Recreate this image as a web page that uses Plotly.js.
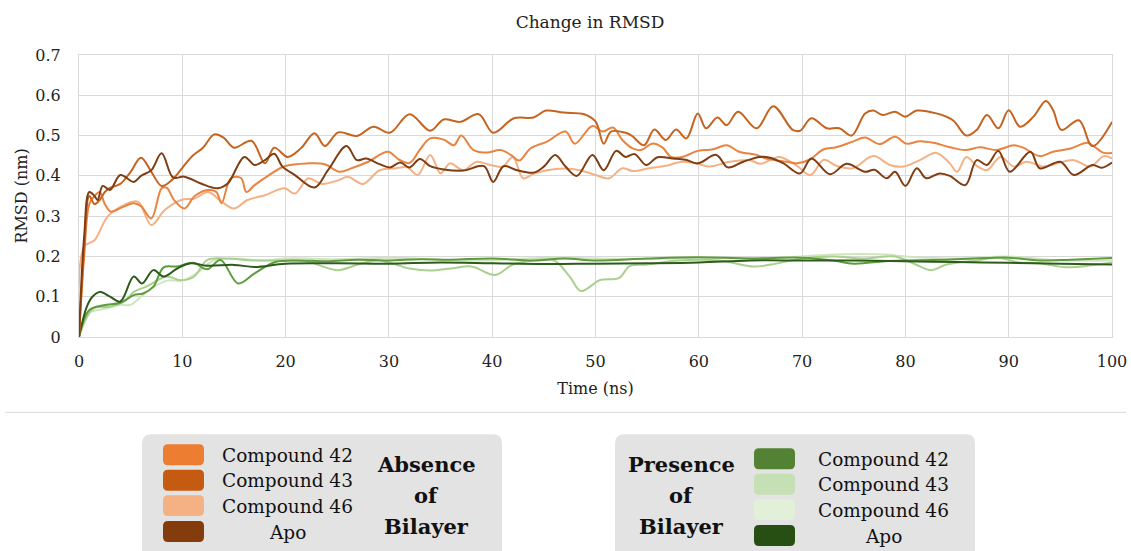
<!DOCTYPE html>
<html>
<head>
<meta charset="utf-8">
<script src="https://cdn.plot.ly/plotly-3.0.1.min.js"></script>
<style>html,body{margin:0;padding:0;background:#fff;}#chart{width:1131px;height:551px;}</style>
</head>
<body>
<div id="chart"></div>
<script>
// ---------- Data (time in ns, RMSD in nm) ----------
// Absence of bilayer
const tA42 = [0,0.5,1,1.5,2,2.5,3.1,4,5.3,6,7.0,8.0,8.5,9.2,10.2,11.2,12.5,13.3,13.8,14.7,15.7,16.2,17,18.3,19.9,22.2,23.8,25.2,26.5,28,29.9,31,32,33,34,35.3,36.3,37,38.2,39.5,40.8,41.8,42.6,43.7,45.3,47.1,48,49.7,50.7,51.7,52.6,53.6,54.4,55.5,56.5,57.3,58.4,59.9,61.4,62.7,63.9,65.6,66.5,68.5,69.5,70.7,72.1,73.3,74.9,76.1,77.5,79,80.1,81.4,82.7,84.3,85.8,87.2,88.8,90.5,91.4,93,94.3,96,97.6,98.2,99.2,100];
const vA42 = [0,0.2,0.33,0.35,0.36,0.33,0.311,0.32,0.332,0.325,0.294,0.369,0.37,0.34,0.319,0.35,0.365,0.36,0.332,0.394,0.394,0.36,0.377,0.40,0.424,0.431,0.429,0.41,0.42,0.435,0.46,0.44,0.432,0.465,0.493,0.49,0.476,0.50,0.464,0.458,0.464,0.452,0.438,0.468,0.485,0.51,0.48,0.524,0.51,0.52,0.489,0.468,0.464,0.48,0.47,0.447,0.447,0.462,0.466,0.476,0.46,0.452,0.443,0.435,0.431,0.44,0.466,0.471,0.485,0.495,0.479,0.497,0.48,0.486,0.482,0.471,0.464,0.471,0.464,0.476,0.47,0.449,0.46,0.468,0.482,0.474,0.457,0.457];

const tA43 = [0,0.5,1,1.5,2,2.5,3,4,5,6,7,8,9,10,11,12,13.1,14,15,16.7,18,18.9,20.2,21.5,22.8,23.8,25.1,26.9,28.5,30.1,32.0,34.0,35.3,36.9,38.7,40.1,42.1,44.0,45.2,46.9,48.9,50.0,50.8,51.5,52.9,53.5,54.7,55.7,56.8,57.8,58.8,59.9,60.7,61.8,62.7,63.8,65.6,67.2,69.1,69.8,70.9,72.4,73.6,74.8,76.1,76.9,77.8,79.0,80.0,81.1,83.0,84.6,85.9,86.9,87.9,89.0,90.0,91.1,92.4,93.6,94.3,95.1,96.8,98.1,100];
const vA43 = [0,0.22,0.35,0.33,0.34,0.36,0.37,0.38,0.41,0.445,0.41,0.375,0.39,0.42,0.45,0.47,0.503,0.495,0.47,0.487,0.431,0.47,0.447,0.469,0.506,0.474,0.508,0.499,0.522,0.507,0.553,0.512,0.54,0.534,0.553,0.507,0.543,0.545,0.562,0.557,0.553,0.535,0.48,0.51,0.507,0.50,0.476,0.515,0.489,0.515,0.493,0.555,0.518,0.545,0.526,0.559,0.518,0.573,0.514,0.512,0.543,0.518,0.518,0.50,0.555,0.562,0.551,0.559,0.547,0.562,0.555,0.538,0.50,0.514,0.551,0.518,0.563,0.522,0.547,0.586,0.563,0.514,0.538,0.474,0.534];

const tA46 = [0,0.5,1.5,2.8,4.4,5.7,7.0,8.3,9.9,11.2,12.5,13.8,15.0,16.3,18.0,19.9,20.9,22.2,23.5,25.2,26,27.5,29.1,30.7,31.8,32.8,34,35,35.9,37.2,38.5,39.8,41,42,43,44,45.3,47,48.5,50,51.3,52.6,53.6,55.2,56.8,58.4,59.9,61.0,63,64.9,66,67.8,69.5,70.8,72.1,73.3,74.9,76.9,78.5,79.8,81.4,83,84.3,85,85.9,86.9,87.9,89.2,90.5,91.7,93.4,94.7,96.3,97.9,99.2,100];
const vA46 = [0,0.224,0.24,0.30,0.328,0.336,0.278,0.315,0.34,0.344,0.36,0.336,0.319,0.34,0.352,0.369,0.356,0.394,0.38,0.39,0.398,0.38,0.414,0.419,0.421,0.402,0.452,0.406,0.431,0.414,0.435,0.427,0.423,0.447,0.394,0.405,0.414,0.418,0.414,0.402,0.394,0.419,0.412,0.419,0.425,0.435,0.43,0.423,0.435,0.439,0.43,0.447,0.425,0.402,0.44,0.425,0.419,0.449,0.427,0.423,0.439,0.457,0.431,0.41,0.447,0.425,0.414,0.447,0.423,0.435,0.423,0.431,0.439,0.423,0.449,0.443];

const tAApo = [0,0.5,1,1.5,1.8,2.3,3,4.0,5.3,6,7.0,8.0,9.1,10.2,11.8,13.4,14.4,16.0,17,18,18.9,19.7,20.9,22.8,24.1,25.9,26.9,27.8,29.1,30.1,31.1,32,33,34,35.3,37.2,39.2,40.1,41.1,42.4,44,45,46.1,47.1,48.2,49.7,50.8,52,52.9,53.8,54.9,56,57.5,58.7,59.9,61.7,62.8,64.3,65.9,66.9,68.2,69.8,70.9,72.7,74.3,76.1,77,78.2,79,80,81.1,82,83.3,84.3,85.8,86.9,87.9,89,90.1,92.1,93,95,96.3,98.1,99,100];
const vAApo = [0,0.25,0.36,0.35,0.34,0.375,0.365,0.402,0.385,0.40,0.414,0.456,0.396,0.398,0.381,0.369,0.381,0.447,0.427,0.439,0.455,0.423,0.402,0.371,0.414,0.474,0.439,0.443,0.429,0.421,0.433,0.421,0.442,0.424,0.416,0.413,0.424,0.385,0.424,0.414,0.408,0.423,0.452,0.423,0.40,0.452,0.414,0.462,0.447,0.454,0.427,0.446,0.443,0.44,0.431,0.452,0.421,0.435,0.447,0.445,0.431,0.406,0.443,0.404,0.43,0.41,0.415,0.394,0.41,0.375,0.419,0.394,0.406,0.40,0.377,0.439,0.427,0.462,0.41,0.46,0.419,0.435,0.402,0.427,0.42,0.433];

// Presence of bilayer
const tP42 = [0,1,2.4,4,5.3,6.2,7.2,8.2,9.5,11.1,12.4,13.7,15.4,17,19,21,24,27,30,33,36,40,44,47,50,55,60,65,70,73,75,78,80,84,88,90,93,96,100];
const vP42 = [0,0.067,0.079,0.085,0.104,0.108,0.125,0.173,0.175,0.184,0.168,0.191,0.133,0.158,0.186,0.19,0.188,0.192,0.19,0.193,0.192,0.195,0.19,0.195,0.19,0.195,0.198,0.195,0.197,0.19,0.182,0.188,0.19,0.192,0.196,0.197,0.19,0.192,0.196];

const tP43 = [0,1.4,3,4.5,5.3,6.5,8.5,9.8,11.1,12.4,14,17,20,22,25,27,29,32,34,36,38,40.3,42,44,46,47.5,48.6,50.4,52.3,53.3,55,58,62,65.3,67,70,73,76,79,81,82.5,84,87,89,91,93,95.5,98,100];
const vP43 = [0,0.071,0.075,0.09,0.112,0.125,0.15,0.141,0.149,0.191,0.195,0.19,0.19,0.188,0.166,0.18,0.19,0.17,0.165,0.17,0.175,0.154,0.18,0.19,0.19,0.15,0.114,0.141,0.147,0.176,0.18,0.19,0.19,0.175,0.18,0.195,0.2,0.195,0.2,0.18,0.166,0.18,0.19,0.197,0.185,0.183,0.173,0.178,0.185];

const tP46 = [0,1,2.5,4,5,6,7,8.5,10,11.5,13,15,18,20,25,30,35,40,45,50,55,60,65,70,73,78,80,85,90,95,100];
const vP46 = [0,0.06,0.07,0.08,0.08,0.1,0.12,0.14,0.14,0.16,0.19,0.195,0.19,0.195,0.193,0.197,0.192,0.19,0.197,0.195,0.193,0.197,0.195,0.2,0.205,0.205,0.2,0.195,0.2,0.19,0.19];

const tPApo = [0,0.75,1.3,2,3,4,5.3,6.1,7.2,8.2,9.5,10.8,12.4,15,17,20,25,30,35,40,45,50,55,60,65,70,75,80,85,90,95,100];
const vPApo = [0,0.075,0.1,0.112,0.1,0.088,0.15,0.133,0.166,0.15,0.17,0.183,0.177,0.179,0.174,0.182,0.183,0.182,0.185,0.183,0.181,0.182,0.183,0.185,0.19,0.19,0.19,0.188,0.186,0.184,0.182,0.18];

const xTicks = [0,10,20,30,40,50,60,70,80,90,100];
const yTicks = [0,0.1,0.2,0.3,0.4,0.5,0.6,0.7];
const legendLabels = ['Compound 42','Compound 43','Compound 46','Apo'];
const absenceColors = ['#ED7D31','#C55A11','#F4B183','#843C0C'];
const presenceColors = ['#548235','#C5E0B4','#E2F0D9','#274E13'];

// ---------- Traces ----------
function tr(x, y, color){
  return {x:x, y:y, type:'scatter', mode:'lines', line:{color:color, width:2, shape:'spline', smoothing:1}, hoverinfo:'skip', showlegend:false};
}
const data = [
  tr(tP46, vP46, '#CFE5C0'),
  tr(tP43, vP43, '#A9D18E'),
  tr(tP42, vP42, '#5E9A3E'),
  tr(tPApo, vPApo, '#2E5A1C'),
  tr(tA46, vA46, '#F4B183'),
  tr(tA42, vA42, '#E9833F'),
  tr(tA43, vA43, '#C5631F'),
  tr(tAApo, vAApo, '#7E3D12')
];

// ---------- Layout helpers (pixel -> paper) ----------
const W = 1131, H = 551;
const L = 79, R = 1112, T = 54.6, B = 337.4;
const px = x => (x - L) / (R - L);
const py = y => (B - y) / (B - T);
function rrect(x0, y0, x1, y1, r){
  const X = v => px(v).toFixed(5), Y = v => py(v).toFixed(5);
  return 'M' + X(x0 + r) + ',' + Y(y0) +
    ' L' + X(x1 - r) + ',' + Y(y0) + ' Q' + X(x1) + ',' + Y(y0) + ' ' + X(x1) + ',' + Y(y0 + r) +
    ' L' + X(x1) + ',' + Y(y1 - r) + ' Q' + X(x1) + ',' + Y(y1) + ' ' + X(x1 - r) + ',' + Y(y1) +
    ' L' + X(x0 + r) + ',' + Y(y1) + ' Q' + X(x0) + ',' + Y(y1) + ' ' + X(x0) + ',' + Y(y1 - r) +
    ' L' + X(x0) + ',' + Y(y0 + r) + ' Q' + X(x0) + ',' + Y(y0) + ' ' + X(x0 + r) + ',' + Y(y0) + ' Z';
}

const shapes = [];
const annotations = [];
const FONT = 'DejaVu Serif, Liberation Serif, serif';

// separator line
shapes.push({type:'line', xref:'paper', yref:'paper', x0:px(5), x1:px(1126), y0:py(413), y1:py(413), line:{color:'#D9D9D9', width:1}});

// legend boxes
shapes.push({type:'path', xref:'paper', yref:'paper', path:rrect(142, 435, 502, 570, 9), fillcolor:'#E3E3E3', line:{width:0}, layer:'below'});
shapes.push({type:'path', xref:'paper', yref:'paper', path:rrect(615, 435, 975, 570, 9), fillcolor:'#E3E3E3', line:{width:0}, layer:'below'});

const leftRows = [445, 470.5, 496, 522];
const rightRows = [449, 474.5, 500, 526];
const sh = 21;
for (let i = 0; i < 4; i++){
  shapes.push({type:'path', xref:'paper', yref:'paper', path:rrect(163, leftRows[i], 204, leftRows[i] + sh, 5), fillcolor:absenceColors[i], line:{width:0}});
  annotations.push({xref:'paper', yref:'paper', x:px(287), y:py(leftRows[i] + 11), text:legendLabels[i], showarrow:false, xanchor:'center', yanchor:'middle', font:{family:FONT, size:18.5, color:'#111'}});
  shapes.push({type:'path', xref:'paper', yref:'paper', path:rrect(754, rightRows[i], 795, rightRows[i] + sh, 5), fillcolor:presenceColors[i], line:{width:0}});
  annotations.push({xref:'paper', yref:'paper', x:px(883), y:py(rightRows[i] + 11), text:legendLabels[i], showarrow:false, xanchor:'center', yanchor:'middle', font:{family:FONT, size:18.5, color:'#111'}});
}
const boldLines = [[465,'Absence','Presence'],[496,'of','of'],[527,'Bilayer','Bilayer']];
boldLines.forEach(b => {
  annotations.push({xref:'paper', yref:'paper', x:px(426), y:py(b[0]), text:'<b>' + b[1] + '</b>', showarrow:false, xanchor:'center', yanchor:'middle', font:{family:FONT, size:21, color:'#111'}});
  annotations.push({xref:'paper', yref:'paper', x:px(681), y:py(b[0]), text:'<b>' + b[2] + '</b>', showarrow:false, xanchor:'center', yanchor:'middle', font:{family:FONT, size:21, color:'#111'}});
});

const layout = {
  width: W, height: H,
  margin: {l: L, r: W - R, t: T, b: H - B, pad: 0},
  paper_bgcolor: '#fff', plot_bgcolor: '#fff',
  showlegend: false,
  title: {text: 'Change in RMSD', font: {family: FONT, size: 17, color: '#222'}, xref: 'container', x: 590 / W, xanchor: 'center', yref: 'container', y: 1 - 22 / H, yanchor: 'middle'},
  xaxis: {
    range: [0, 100], tickvals: xTicks, ticktext: xTicks.map(String),
    showgrid: true, gridcolor: '#D9D9D9', gridwidth: 1, zeroline: false,
    showline: true, linecolor: '#D9D9D9', mirror: true, ticks: '',
    ticklabelstandoff: 10,
    tickfont: {family: FONT, size: 16, color: '#222'},
    title: {text: 'Time (ns)', font: {family: FONT, size: 16, color: '#222'}, standoff: 12},
    automargin: false, fixedrange: true
  },
  yaxis: {
    range: [0, 0.7], tickvals: yTicks, ticktext: yTicks.map(v => v === 0 ? '0' : v.toFixed(1)),
    showgrid: true, gridcolor: '#D9D9D9', gridwidth: 1, zeroline: false,
    showline: true, linecolor: '#D9D9D9', mirror: true, ticks: '',
    ticklabelstandoff: 14,
    tickfont: {family: FONT, size: 16, color: '#222'},
    title: {text: 'RMSD (nm)', font: {family: FONT, size: 16, color: '#222'}, standoff: 3},
    automargin: false, fixedrange: true
  },
  shapes: shapes,
  annotations: annotations
};

Plotly.newPlot('chart', data, layout, {staticPlot: true, displayModeBar: false});
</script>
</body>
</html>
